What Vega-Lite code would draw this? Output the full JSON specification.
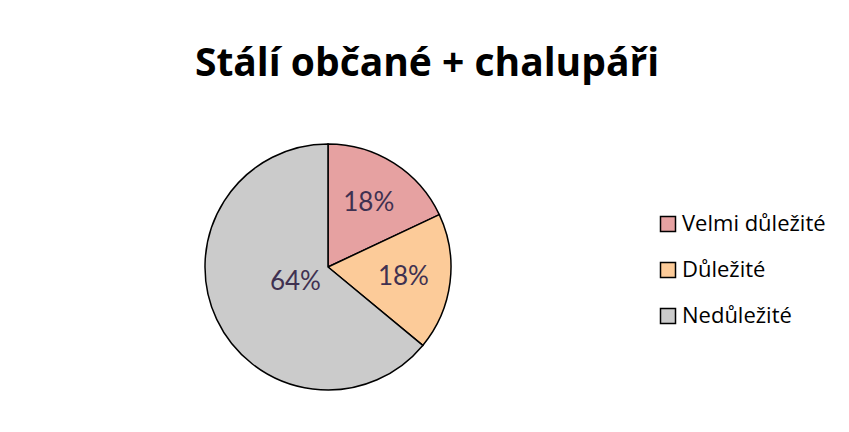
{
  "$schema": "https://vega.github.io/schema/vega-lite/v6.json",
  "width": 246,
  "height": 246,
  "autosize": {"type": "none"},
  "padding": {"left": 205, "top": 144, "right": 398, "bottom": 42},
  "background": "white",
  "config": {"view": {"stroke": null}, "font": "Open Sans"},
  "title": {
    "text": "Stálí občané + chalupáři",
    "font": "Open Sans",
    "fontSize": 39,
    "fontWeight": "bold",
    "color": "#000000",
    "anchor": "middle",
    "frame": "group",
    "baseline": "alphabetic",
    "offset": 26,
    "dx": 99
  },
  "data": {
    "values": [
      {"i": 1, "kategorie": "Velmi důležité", "podil": 18, "label": "18%"},
      {"i": 2, "kategorie": "Důležité", "podil": 18, "label": "18%"},
      {"i": 3, "kategorie": "Nedůležité", "podil": 64, "label": "64%"}
    ]
  },
  "encoding": {
    "theta": {"field": "podil", "type": "quantitative", "stack": true},
    "order": {"field": "i", "type": "quantitative"}
  },
  "layer": [
    {
      "mark": {"type": "arc", "outerRadius": 123, "stroke": "#000000", "strokeWidth": 1.5},
      "encoding": {
        "color": {
          "field": "kategorie",
          "type": "nominal",
          "scale": {
            "domain": ["Velmi důležité", "Důležité", "Nedůležité"],
            "range": ["#E6A1A1", "#FCCB99", "#CBCBCB"]
          },
          "legend": {
            "title": null,
            "orient": "none",
            "legendX": 452,
            "legendY": 69,
            "padding": 0,
            "symbolType": "square",
            "symbolSize": 225,
            "symbolStrokeColor": "#000000",
            "symbolStrokeWidth": 1.5,
            "symbolOpacity": 1,
            "labelFont": "Open Sans",
            "labelFontSize": 22,
            "labelColor": "#000000",
            "labelOffset": 3,
            "rowPadding": 24,
            "labelLimit": 300
          }
        }
      }
    },
    {
      "mark": {"type": "text", "font": "Lato", "fontSize": 26, "color": "#3F3151"},
      "encoding": {
        "text": {"field": "label", "type": "nominal"},
        "radius": {
          "field": "podil",
          "type": "quantitative",
          "scale": {"type": "linear", "zero": false, "domain": [18, 64], "range": [76, 36]}
        }
      }
    }
  ]
}
